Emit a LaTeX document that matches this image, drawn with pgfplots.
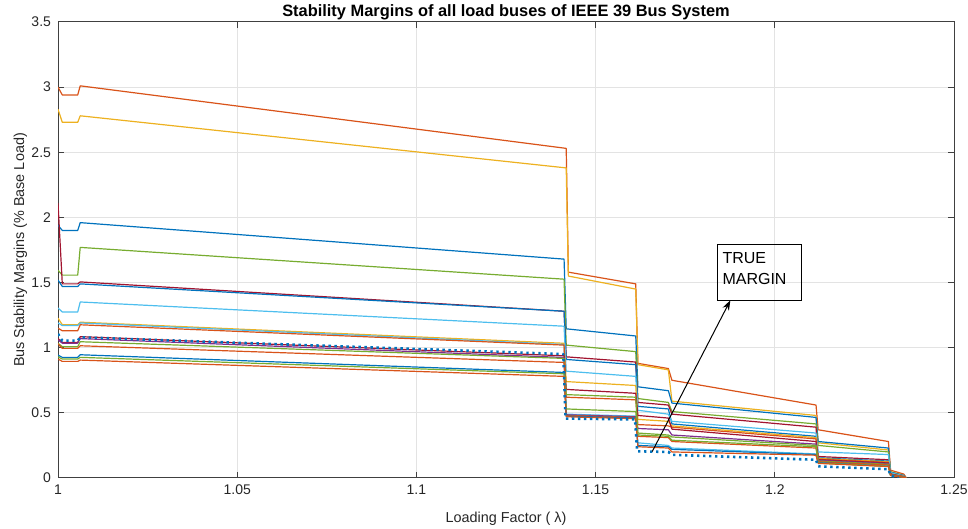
\documentclass[border=0pt]{standalone}
\usepackage{fontspec}
\setmainfont{Liberation Sans}
\usepackage{pgfplots}
\pgfplotsset{compat=1.18}
\usetikzlibrary{arrows.meta}

% MATLAB default line colours
\definecolor{mblue}{HTML}{0072BD}
\definecolor{morange}{HTML}{D95319}
\definecolor{myellow}{HTML}{EDB120}
\definecolor{mpurple}{HTML}{7E2F8E}
\definecolor{mgreen}{HTML}{77AC30}
\definecolor{mlblue}{HTML}{4DBEEE}
\definecolor{mdred}{HTML}{A2142F}
\definecolor{gridgray}{HTML}{E3E3E3}
\definecolor{axgray}{HTML}{404040}

\begin{document}
\begin{tikzpicture}
\begin{axis}[
  width=448pt, height=228pt, scale only axis,
  xmin=1, xmax=1.25, ymin=0, ymax=3.5,
  xtick={1,1.05,1.1,1.15,1.2,1.25},
  xticklabels={1,1.05,1.1,1.15,1.2,1.25},
  ytick={0,0.5,1,1.5,2,2.5,3,3.5},
  yticklabels={0,0.5,1,1.5,2,2.5,3,3.5},
  grid=major,
  major grid style={color=gridgray, line width=0.5pt},
  axis line style={color=axgray, line width=0.5pt},
  tick style={color=axgray, line width=0.5pt},
  tick align=inside, tick pos=both, major tick length=3pt,
  ticklabel style={font=\fontsize{7}{9}\selectfont, color=black!85},
  /pgf/number format/assume math mode=true,
  title={Stability Margins of all load buses of IEEE 39 Bus System},
  title style={font=\bfseries\fontsize{8.2}{10}\selectfont, at={(0.5,1)}, anchor=base, inner sep=0pt, yshift=-3.5pt},
  xlabel={Loading Factor ( λ)},
  ylabel={Bus Stability Margins (\% Base Load)},
  label style={font=\fontsize{7.2}{9}\selectfont, color=black!85},
  xlabel style={at={(0.5,0)}, anchor=base, inner sep=0pt, yshift=-22pt},
  ylabel style={at={(0,0.5)}, anchor=base, inner sep=0pt, yshift=17pt},
  no markers,
  every axis plot/.append style={line width=0.6pt, line join=round},
]
% bus 1
\addplot[morange] coordinates {(1.0000,3.00)(1.0012,2.94)(1.0055,2.94)(1.0062,3.01)(1.1418,2.53)(1.1424,1.58)(1.1612,1.49)(1.1618,0.88)(1.1703,0.84)(1.1713,0.75)(1.2115,0.56)(1.2121,0.37)(1.2317,0.28)(1.2323,0.06)(1.2360,0.03)(1.2367,0)};
% bus 2
\addplot[myellow] coordinates {(1.0000,2.83)(1.0012,2.73)(1.0055,2.73)(1.0062,2.78)(1.1418,2.38)(1.1424,1.55)(1.1612,1.45)(1.1618,0.87)(1.1703,0.83)(1.1713,0.59)(1.2115,0.48)(1.2121,0.27)(1.2317,0.215)(1.2323,0.05)(1.2360,0.02)(1.2367,0)};
% bus 3
\addplot[mblue] coordinates {(1.0000,1.94)(1.0012,1.90)(1.0055,1.90)(1.0062,1.96)(1.1412,1.68)(1.1418,1.145)(1.1612,1.09)(1.1618,0.70)(1.1703,0.67)(1.1713,0.575)(1.2115,0.465)(1.2121,0.28)(1.2317,0.23)(1.2323,0.045)(1.2360,0.02)(1.2367,0)};
% bus 4
\addplot[mgreen] coordinates {(1.0000,1.595)(1.0012,1.557)(1.0055,1.557)(1.0062,1.77)(1.1412,1.526)(1.1418,1.02)(1.1612,0.97)(1.1618,0.61)(1.1703,0.58)(1.1713,0.51)(1.2115,0.415)(1.2121,0.25)(1.2317,0.20)(1.2323,0.04)(1.2360,0.015)(1.2367,0)};
% bus 5
\addplot[mdred] coordinates {(1.0000,2.11)(1.0012,1.49)(1.0055,1.49)(1.0062,1.505)(1.1412,1.28)(1.1418,0.93)(1.1612,0.89)(1.1618,0.58)(1.1703,0.56)(1.1713,0.49)(1.2115,0.39)(1.2121,0.165)(1.2317,0.14)(1.2323,0.035)(1.2360,0.015)(1.2367,0)};
% bus 6
\addplot[mblue] coordinates {(1.0000,1.52)(1.0012,1.47)(1.0055,1.47)(1.0062,1.49)(1.1412,1.28)(1.1418,0.91)(1.1612,0.87)(1.1618,0.55)(1.1703,0.53)(1.1713,0.415)(1.2115,0.32)(1.2121,0.155)(1.2317,0.13)(1.2323,0.035)(1.2360,0.01)(1.2367,0)};
% bus 7
\addplot[mlblue] coordinates {(1.0000,1.305)(1.0012,1.274)(1.0055,1.274)(1.0062,1.351)(1.1412,1.165)(1.1418,0.82)(1.1612,0.78)(1.1618,0.52)(1.1703,0.49)(1.1713,0.435)(1.2115,0.345)(1.2121,0.20)(1.2317,0.18)(1.2323,0.04)(1.2360,0.015)(1.2367,0)};
% bus 8
\addplot[myellow] coordinates {(1.0000,1.227)(1.0012,1.176)(1.0055,1.176)(1.0062,1.196)(1.1412,1.034)(1.1418,0.74)(1.1612,0.71)(1.1618,0.45)(1.1703,0.435)(1.1713,0.40)(1.2115,0.31)(1.2121,0.15)(1.2317,0.125)(1.2323,0.03)(1.2360,0.01)(1.2367,0)};
% bus 9
\addplot[mlblue] coordinates {(1.0000,1.19)(1.0012,1.17)(1.0055,1.17)(1.0062,1.19)(1.1412,1.025)(1.1418,0.49)(1.1612,0.475)(1.1618,0.27)(1.1703,0.25)(1.1713,0.23)(1.2115,0.185)(1.2121,0.12)(1.2317,0.095)(1.2323,0.03)(1.2360,0.01)(1.2367,0)};
% bus 10
\addplot[morange] coordinates {(1.0000,1.15)(1.0012,1.13)(1.0055,1.13)(1.0062,1.176)(1.1412,1.02)(1.1418,0.62)(1.1612,0.60)(1.1618,0.41)(1.1703,0.40)(1.1713,0.39)(1.2115,0.30)(1.2121,0.145)(1.2317,0.12)(1.2323,0.03)(1.2360,0.01)(1.2367,0)};
% bus 11
\addplot[mdred] coordinates {(1.0000,1.07)(1.0012,1.04)(1.0055,1.04)(1.0062,1.085)(1.1412,0.938)(1.1418,0.68)(1.1612,0.65)(1.1618,0.48)(1.1703,0.46)(1.1713,0.375)(1.2115,0.28)(1.2121,0.14)(1.2317,0.115)(1.2323,0.03)(1.2360,0.01)(1.2367,0)};
% bus 12
\addplot[mpurple] coordinates {(1.0000,1.06)(1.0012,1.035)(1.0055,1.035)(1.0062,1.07)(1.1412,0.925)(1.1418,0.485)(1.1612,0.47)(1.1618,0.38)(1.1703,0.37)(1.1713,0.33)(1.2115,0.26)(1.2121,0.135)(1.2317,0.11)(1.2323,0.025)(1.2360,0.01)(1.2367,0)};
% bus 13
\addplot[mgreen] coordinates {(1.0000,1.034)(1.0012,1.008)(1.0055,1.008)(1.0062,1.046)(1.1412,0.918)(1.1418,0.64)(1.1612,0.62)(1.1618,0.345)(1.1703,0.33)(1.1713,0.315)(1.2115,0.25)(1.2121,0.13)(1.2317,0.105)(1.2323,0.025)(1.2360,0.01)(1.2367,0)};
% bus 14
\addplot[morange] coordinates {(1.0000,1.03)(1.0012,0.995)(1.0055,0.995)(1.0062,1.015)(1.1412,0.887)(1.1418,0.48)(1.1612,0.465)(1.1618,0.32)(1.1703,0.31)(1.1713,0.28)(1.2115,0.23)(1.2121,0.125)(1.2317,0.10)(1.2323,0.025)(1.2360,0.01)(1.2367,0)};
% bus 15
\addplot[mblue] coordinates {(1.0000,0.943)(1.0012,0.926)(1.0055,0.926)(1.0062,0.946)(1.1412,0.81)(1.1418,0.475)(1.1612,0.46)(1.1618,0.25)(1.1703,0.24)(1.1713,0.22)(1.2115,0.18)(1.2121,0.118)(1.2317,0.09)(1.2323,0.02)(1.2360,0.005)(1.2367,0)};
% bus 16
\addplot[mgreen] coordinates {(1.0000,0.93)(1.0012,0.913)(1.0055,0.913)(1.0062,0.926)(1.1412,0.80)(1.1418,0.53)(1.1612,0.51)(1.1618,0.33)(1.1703,0.32)(1.1713,0.29)(1.2115,0.24)(1.2121,0.115)(1.2317,0.09)(1.2323,0.02)(1.2360,0.005)(1.2367,0)};
% bus 17
\addplot[morange] coordinates {(1.0000,0.913)(1.0012,0.895)(1.0055,0.895)(1.0062,0.905)(1.1412,0.78)(1.1418,0.47)(1.1612,0.455)(1.1618,0.24)(1.1703,0.23)(1.1713,0.20)(1.2115,0.175)(1.2121,0.112)(1.2317,0.088)(1.2323,0.02)(1.2360,0.005)(1.2367,0)};
% true margin of the system
\addplot[mblue, line width=1.3pt, dash pattern=on 1.2pt off 1.8pt] coordinates {(1.0000,1.106)(1.0012,1.054)(1.0055,1.054)(1.0062,1.08)(1.1410,0.951)(1.1416,0.456)(1.1610,0.45)(1.1616,0.205)(1.1703,0.20)(1.1713,0.178)(1.2115,0.14)(1.2121,0.09)(1.2317,0.067)(1.2323,0.02)(1.2340,0.005)(1.2345,0)};
% annotation
\draw[black, line width=0.5pt] (axis cs:1.1839,1.794) rectangle (axis cs:1.2075,1.364);
\node[anchor=north west, align=left, inner sep=0pt, font=\fontsize{8}{10.5}\selectfont] at (axis cs:1.1853,1.733) {TRUE\\MARGIN};
\draw[black, line width=0.5pt, -{Stealth[length=5pt,width=3.5pt]}] (axis cs:1.1658,0.203) -- (axis cs:1.1876,1.364);
\end{axis}
\pgfresetboundingbox
\useasboundingbox ([shift={(-29pt,-25.5pt)}]current axis.south west) rectangle ([shift={(7pt,11pt)}]current axis.north east);
\end{tikzpicture}
\end{document}
